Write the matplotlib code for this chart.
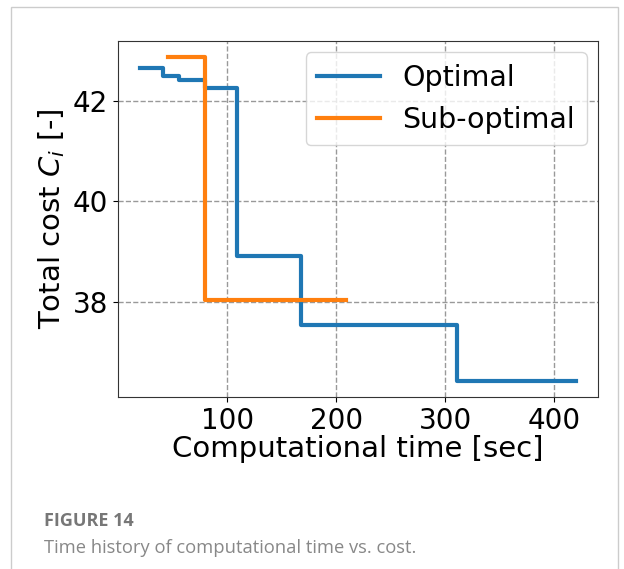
import matplotlib.pyplot as plt
from matplotlib.patches import Rectangle

# step history of the total cost against solver time
opt_time = [20, 41.5, 56, 80, 109, 168, 311, 420]
opt_cost = [42.66, 42.50, 42.42, 42.25, 38.90, 37.54, 36.42, 36.42]
sub_time = [45.5, 80, 209]
sub_cost = [42.87, 38.03, 38.03]

fig = plt.figure(figsize=(6.24, 5.69), dpi=100)

# light page frame around the figure
fig.patches.append(Rectangle((11 / 624, -0.1), 607 / 624, 1.1 - 7 / 569,
                             transform=fig.transFigure, fill=False,
                             edgecolor="#cccccc", linewidth=1.0))

ax = fig.add_axes([118 / 624, 1 - 397 / 569, 480 / 624, 356 / 569])
ax.step(opt_time, opt_cost, where="post", color="#1f77b4", lw=3.0, label="Optimal")
ax.step(sub_time, sub_cost, where="post", color="#ff7f0e", lw=3.0, label="Sub-optimal")

ax.set_xticks([100, 200, 300, 400])
ax.set_yticks([38, 40, 42])
ax.tick_params(labelsize=20)
ax.grid(True, linestyle="--", color="gray", alpha=0.8, lw=1)
ax.set_xlabel("Computational time [sec]", fontsize=21, labelpad=0)
ax.set_ylabel("Total cost $C_i$ [-]", fontsize=21, labelpad=4)
for s in ax.spines.values():
    s.set_color("#333333")
ax.legend(loc="upper right", fontsize=20.5, handlelength=2.2,
          handletextpad=0.8, borderaxespad=0.4)

fig.text(44 / 624, 1 - 521 / 569, "FIGURE 14", fontsize=13, fontweight="bold",
         color="#777777", family="Open Sans", va="center")
fig.text(44 / 624, 1 - 548 / 569, "Time history of computational time vs. cost.",
         fontsize=13.2, color="#888888", family="Open Sans", va="center")

fig.savefig("out.png", dpi=100)
